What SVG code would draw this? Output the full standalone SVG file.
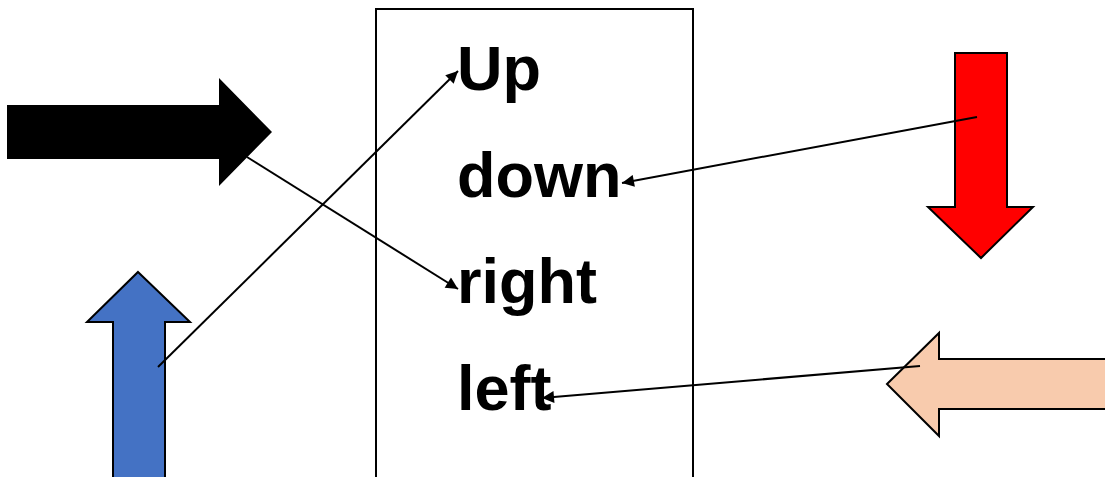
<svg xmlns="http://www.w3.org/2000/svg" width="1105" height="477" viewBox="0 0 1105 477">
<style>
.lbl{font-family:"Liberation Sans",Arial,sans-serif;font-weight:bold;font-size:63px;fill:#000}
.conn{stroke:#000;stroke-width:2;fill:none;marker-end:url(#ah)}
.blk{stroke:#000;stroke-width:2;stroke-linejoin:miter}
</style>
<defs>
<marker id="ah" viewBox="0 0 10 10" refX="10" refY="5" markerWidth="7" markerHeight="6" orient="auto" markerUnits="strokeWidth">
<path d="M0,0 L10,5 L0,10 z" fill="#000"/>
</marker>
</defs>
<rect width="1105" height="477" fill="#fff"/>
<g id="box">
<rect x="376" y="9" width="317" height="480" fill="none" stroke="#000" stroke-width="2"/>
</g>
<g id="arrow-right">
<polygon points="7,105 219,105 219,78 272,132 219,186 219,159 7,159" fill="#000"/>
</g>
<g id="arrow-up">
<polygon class="blk" points="138,272 190,322 165,322 165,490 113,490 113,322 87,322" fill="#4472C4"/>
</g>
<g id="arrow-down">
<polygon class="blk" points="955,53 1007,53 1007,207 1033,207 981,258 928,207 955,207" fill="#FF0000"/>
</g>
<g id="arrow-left">
<polygon class="blk" points="887,384 939,333 939,359 1115,359 1115,409 939,409 939,436" fill="#F8CBAD"/>
</g>
<g id="labels">
<text class="lbl" x="457" y="90">Up</text>
<text class="lbl" x="457" y="197">down</text>
<text class="lbl" x="457" y="303">right</text>
<text class="lbl" x="457" y="410">left</text>
</g>
<g id="connectors">
<line class="conn" x1="158" y1="367" x2="458" y2="71"/>
<line class="conn" x1="247" y1="157" x2="458" y2="289"/>
<line class="conn" x1="977" y1="117" x2="622" y2="183"/>
<line class="conn" x1="920" y1="366" x2="542" y2="398"/>
</g>
</svg>
